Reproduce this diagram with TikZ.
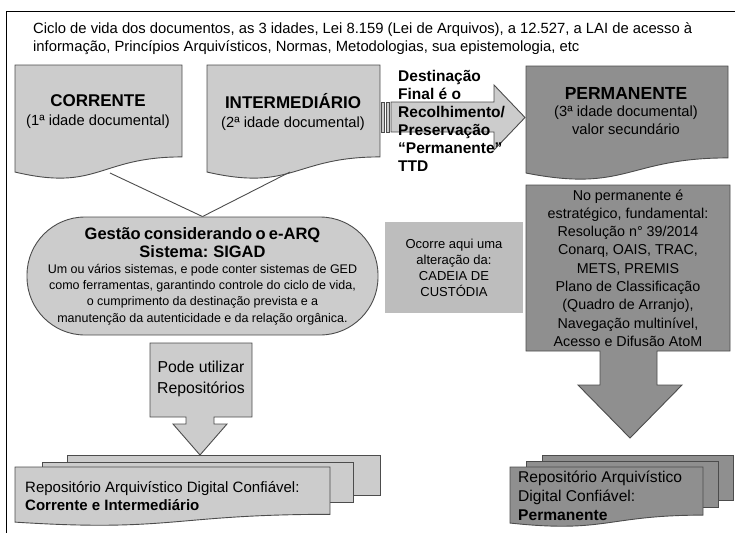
\documentclass[tikz,border=0pt]{standalone}
\usepackage{fontspec}
\setmainfont{Liberation Sans}
\definecolor{lightgrey}{gray}{0.80}
\definecolor{darkgrey}{gray}{0.56}
\definecolor{midgrey}{gray}{0.74}
\definecolor{edgegrey}{gray}{0.30}
\tikzset{
  sheet/.style={draw=edgegrey, line width=0.9pt},
  label/.style={align=center, inner sep=0pt},
  lefttext/.style={anchor=west, align=left, inner sep=0pt},
}
% document sheet with a wavy foot: x0, y0 (top left), x1, height, fill
\newcommand{\docsheet}[5]{%
  \draw[sheet, fill=#5] (#1,#2) -- (#3,#2) -- (#3,{#2+0.802*#4})
    .. controls ({(#1+#3)/2},{#2+0.802*#4}) and ({(#1+#3)/2},{#2+1.107*#4}) .. (#1,{#2+0.934*#4}) -- cycle;}

\begin{document}
\begin{tikzpicture}[x=1pt, y=-1pt]
  \useasboundingbox (0,0) rectangle (735,533);
  \draw[line width=1pt] (735,11) -- (6,11) -- (6,533);
  \node[anchor=north west, align=left, inner sep=0pt, font=\fontsize{14.8}{18}\selectfont] (intro) at (33,22)
    {Ciclo de vida dos documentos, as 3 idades, Lei 8.159 (Lei de Arquivos), a 12.527, a LAI de acesso à\\
     informação, Princípios Arquivísticos, Normas, Metodologias, sua epistemologia, etc};

  % the three ages
  \docsheet{15}{65}{182}{114.6}{lightgrey}
  \docsheet{207}{65}{380}{114.6}{lightgrey}
  \docsheet{526}{66}{728}{114.6}{darkgrey}
  \node[label, font=\fontsize{14.7}{19}\selectfont] (corrente) at (98,112)
    {\textbf{\fontsize{17}{19}\selectfont CORRENTE}\\(1ª idade documental)};
  \node[label, font=\fontsize{14.7}{19}\selectfont] (intermediario) at (293,112)
    {\textbf{\fontsize{17}{19}\selectfont INTERMEDIÁRIO}\\(2ª idade documental)};
  \node[label, font=\fontsize{14.7}{17.5}\selectfont] (permanente) at (626,111)
    {\textbf{\fontsize{17.5}{17.5}\selectfont PERMANENTE}\\(3ª idade documental)\\valor secundário};

  % striped arrow towards the third age
  \foreach \xa/\xb in {381/384, 386/389}
    \draw[sheet, fill=lightgrey] (\xa,102) rectangle (\xb,132);
  \draw[sheet, fill=lightgrey] (391,102) -- (494,102) -- (494,85) -- (525,117.5)
    -- (494,150) -- (494,132) -- (391,132) -- cycle;
  \node[lefttext, font=\fontsize{15.5}{18}\selectfont\bfseries] (destino) at (398,121)
    {Destinação\\Final é o\\Recolhimento/\\Preservação\\“Permanente”\\TTD};

  % management of current and intermediate
  \node[sheet, fill=lightgrey, rounded corners=58, minimum width=351, minimum height=118,
        text width=345, align=center, inner sep=0pt] (gestao) at (202.5,276)
    {{\fontsize{16.5}{18}\selectfont\bfseries Gestão considerando o e-ARQ\\Sistema: SIGAD\par}
     {\fontsize{12.5}{16.3}\selectfont Um ou vários sistemas, e pode conter sistemas de GED\\
      como ferramentas, garantindo controle do ciclo de vida,\\
      o cumprimento da destinação prevista e a\\
      manutenção da autenticidade e da relação orgânica.\par}};
  \coordinate (corrente-foot) at (110,173);
  \coordinate (interm-foot) at (290,172);
  \draw[edgegrey, line width=0.9pt] (corrente-foot) -- (gestao.north);
  \draw[edgegrey, line width=0.9pt] (interm-foot) -- (gestao.north);

  \node[fill=midgrey, minimum width=138, minimum height=91, align=center, inner sep=0pt,
        font=\fontsize{13}{16}\selectfont] (custodia) at (454,267.5)
    {Ocorre aqui uma\\alteração da:\\CADEIA DE\\CUSTÓDIA};

  % permanent: callout with down arrow
  \draw[sheet, fill=darkgrey] (526,185) -- (730,185) -- (730,351) -- (657,351) -- (657,385)
    -- (682,385) -- (630,438) -- (578,385) -- (600,385) -- (600,351) -- (526,351) -- cycle;
  \node[label, font=\fontsize{14.3}{18.3}\selectfont] (estrategia) at (628,268)
    {No permanente é\\estratégico, fundamental:\\Resolução n° 39/2014\\Conarq, OAIS, TRAC,\\METS, PREMIS\\
     Plano de Classificação\\(Quadro de Arranjo),\\Navegação multinível,\\Acesso e Difusão AtoM};

  % repositories callout
  \draw[sheet, fill=lightgrey] (150,343) -- (252,343) -- (252,417) -- (214,417) -- (214,424)
    -- (227,424) -- (200,455) -- (173,424) -- (186,424) -- (186,417) -- (150,417) -- cycle;
  \node[label, font=\fontsize{15.8}{21}\selectfont] (uso) at (201,379) {Pode utilizar\\Repositórios};

  % trusted repositories
  \draw[sheet, fill=lightgrey] (67,455) rectangle (380,495);
  \draw[sheet, fill=lightgrey] (42,462) rectangle (353,502);
  \docsheet{15}{467}{330}{59}{lightgrey}
  \node[lefttext, font=\fontsize{15}{18}\selectfont] (rdc-ci) at (25,496)
    {Repositório Arquivístico Digital Confiável:\\\textbf{Corrente e Intermediário}};

  \draw[sheet, fill=darkgrey] (542,455) rectangle (733,500);
  \draw[sheet, fill=darkgrey] (526,461) rectangle (718,507);
  \docsheet{510}{467}{703}{60}{darkgrey}
  \node[lefttext, font=\fontsize{15.6}{19}\selectfont] (rdc-p) at (518,496)
    {Repositório Arquivístico\\Digital Confiável:\\\textbf{Permanente}};
\end{tikzpicture}
\end{document}
